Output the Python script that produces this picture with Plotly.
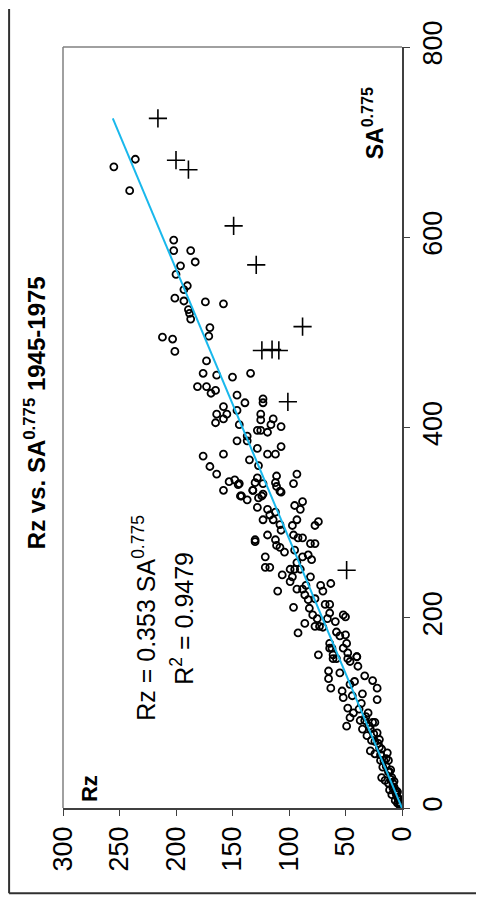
import plotly.graph_objects as go

# Circles: (Rz, SA^0.775)
circ_rz = [255,236,241,202,202,187,196,183,200,190,193,201,193,174,158,189,188,187,170,171,212,203,201,173,176,164,150,134,181,173,165,169,146,139,123,123,146,158,164,155,165,158,125,125,114,116,107,128,125,119,144,137,137,146,128,107,176,158,135,119,112,127,170,164,153,148,144,158,142,128,130,123,111,112,111,107,96,93,132,127,123,
 145,143,137,128,124,132,119,117,112,108,95,88,90,123,114,93,97,77,74,108,107,96,92,88,119,130,130,112,111,108,104,81,77,95,83,88,80,93,121,121,117,99,95,90,106,97,81,99,93,88,85,72,63,70,110,86,83,77,96,82,68,64,79,86,75,73,66,64,59,52,50,77,70,92,58,55,50,64,62,49,52,74,61,48,40,58,48,
 64,61,65,65,55,46,40,39,33,26,22,22,63,53,52,46,42,35,48,43,49,46,37,33,24,35,28,22,31,27,21,28,24,13,19,12,17,18,11,9,12,8,9,4,6,2,4,4,11,15,
 30,26,20,18,14,10,7,5,3,1,36,32,25,20,16,12,8,6,3,2,44,38,29,24,19,14,10,7,5,2]
circ_sa = [674,682,649,597,586,586,570,574,561,549,545,536,533,532,530,524,520,514,505,496,495,493,480,470,457,455,453,457,443,443,439,436,434,426,430,426,418,422,414,414,405,409,414,408,409,403,401,397,397,395,403,391,386,386,378,380,370,372,366,372,372,360,359,351,343,345,341,334,328,347,342,341,349,342,338,332,341,351,334,326,330,
 340,328,324,316,328,334,314,308,311,333,318,322,314,303,303,303,297,297,301,298,292,287,284,284,287,282,280,282,276,274,269,278,278,271,266,264,261,258,264,253,253,251,251,251,245,243,243,238,230,230,234,234,236,228,228,224,219,220,211,210,214,214,203,194,199,191,199,205,196,203,201,191,190,184,185,181,182,173,168,173,168,161,161,163,159,157,157,
 168,157,144,136,142,154,159,149,139,134,126,114,126,123,116,130,133,120,105,100,86,95,92,92,90,83,83,79,76,71,68,60,57,58,50,50,43,32,38,32,26,21,14,11,8,3,5,17,19,29,
 100,90,72,62,52,40,28,18,10,4,110,96,78,64,50,38,26,17,9,5,118,104,86,70,56,44,30,22,14,6]

# Crosses (outliers)
cross_rz = [216,200,189,149,129,88,124,115,109,101,49]
cross_sa = [725,681,671,612,571,506,481,482,481,427,250]

coef = 0.353
fit_sa = [0, 725]
fit_rz = [coef * v for v in fit_sa]

rz_ticks = [0, 50, 100, 150, 200, 250, 300]
sa_ticks = [0, 200, 400, 600, 800]

fig = go.Figure()
fig.add_trace(go.Scatter(x=circ_rz, y=circ_sa, mode="markers",
    marker=dict(symbol="circle-open", size=7, color="black", line=dict(width=1.8, color="black"))))
fig.add_trace(go.Scatter(x=fit_rz, y=fit_sa, mode="lines", line=dict(color="#19B8EC", width=2)))
fig.add_trace(go.Scatter(x=cross_rz, y=cross_sa, mode="markers",
    marker=dict(symbol="cross-thin", size=13, color="black", line=dict(width=1.6, color="black"))))

font = "Liberation Sans, Arial, sans-serif"
fig.update_layout(
    width=476, height=891, showlegend=False,
    paper_bgcolor="white", plot_bgcolor="white",
    margin=dict(l=55, r=82, t=32, b=91),
    font=dict(family=font, color="black", size=23),
    xaxis=dict(range=[300, 0], tickvals=rz_ticks, ticktext=[str(v) for v in rz_ticks],
               tickangle=-90, ticks="outside", ticklen=6, tickcolor="#404040",
               showline=True, linecolor="#404040", linewidth=1.5, showgrid=False, zeroline=False,
               tickfont=dict(size=27)),
    yaxis=dict(range=[0, 800], tickvals=sa_ticks, ticktext=[str(v) for v in sa_ticks],
               side="right", tickangle=-90, ticks="outside", ticklen=6, tickcolor="#404040",
               showline=True, linecolor="#404040", linewidth=1.5, showgrid=False, zeroline=False,
               tickfont=dict(size=27)),
)
# gray frame top & left
fig.add_shape(type="line", xref="paper", yref="paper", x0=0, x1=1, y0=1, y1=1, line=dict(color="#808080", width=1.5))
fig.add_shape(type="line", xref="paper", yref="paper", x0=0, x1=0, y0=0, y1=1, line=dict(color="#808080", width=1.5))
# outer border (left and bottom edges visible)
fig.add_shape(type="line", xref="paper", yref="paper", x0=-0.159, x1=-0.159, y0=-0.112, y1=1.05,
              line=dict(color="#303030", width=2))
fig.add_shape(type="line", xref="paper", yref="paper", x0=-0.159, x1=1.25, y0=-0.112, y1=-0.112,
              line=dict(color="#303030", width=2))

def ann(x, y, text, size):
    fig.add_annotation(xref="paper", yref="paper", x=x, y=y, text=text, textangle=-90,
                       showarrow=False, xanchor="center", yanchor="middle", font=dict(size=size))

ann(-0.083, 0.52, "<b>Rz vs. SA<sup>0.775</sup> 1945-1975</b>", 24)
ann(0.915, 0.90, "<b>SA<sup>0.775</sup></b>", 23)
ann(0.08, 0.025, "<b>Rz</b>", 22)
ann(0.239, 0.25, "Rz = 0.353 SA<sup>0.775</sup>", 25)
ann(0.351, 0.25, "R<sup>2</sup> = 0.9479", 25)

fig.write_html("out.html")
